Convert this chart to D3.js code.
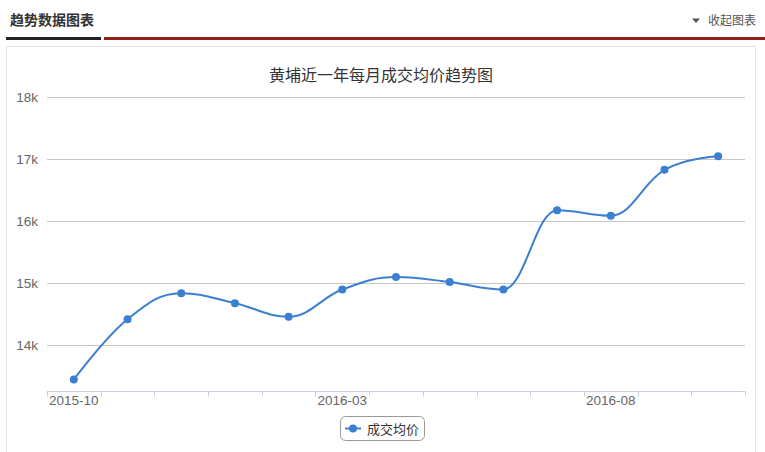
<!DOCTYPE html>
<html><head><meta charset="utf-8">
<script src="https://cdn.jsdelivr.net/npm/d3@7"></script>
<style>
html,body{margin:0;padding:0;background:#fff;}
svg{display:block;font-family:"Liberation Sans","Noto Sans CJK SC",sans-serif;}
</style></head>
<body>
<svg id="c" width="765" height="452"></svg>
<script>
const categories = ["2015-10","2015-11","2015-12","2016-01","2016-02","2016-03","2016-04","2016-05","2016-06","2016-07","2016-08","2016-09","2016-10"];
const prices = [13450,14420,14840,14680,14460,14900,15100,15020,14900,16180,16090,16830,17050];
const yTicks = [14000,15000,16000,17000,18000];
const xLabelIdx = [0,5,10];
const seriesName = "成交均价";
const chartTitle = "黄埔近一年每月成交均价趋势图";
const headerTitle = "趋势数据图表";
const headerAction = "收起图表";

const svg = d3.select("#c");
const cjk = '"Noto Sans CJK SC",sans-serif';

// header
svg.append("text").attr("x",10).attr("y",25).attr("font-size",14).attr("font-weight","bold")
  .attr("fill","#333").style("font-family",cjk).text(headerTitle);
svg.append("path").attr("d","M692,18.5 L700,18.5 L696,23 Z").attr("fill","#555");
svg.append("text").attr("x",756).attr("y",25).attr("text-anchor","end").attr("font-size",12)
  .attr("fill","#555").style("font-family",cjk).text(headerAction);
svg.append("rect").attr("x",6).attr("y",37).attr("width",95).attr("height",3).attr("fill","#222");
svg.append("rect").attr("x",104).attr("y",37).attr("width",661).attr("height",3).attr("fill","#8e1f1c");
// box
svg.append("rect").attr("x",6.5).attr("y",46.5).attr("width",749).attr("height",420)
  .attr("fill","none").attr("stroke","#e3e3e3");

// title
svg.append("text").attr("x",381).attr("y",81).attr("text-anchor","middle").attr("font-size",16)
  .attr("fill","#333").style("font-family",cjk).text(chartTitle);

const x0 = 47, x1 = 745;
const xBand = d3.scaleBand().domain(categories).range([x0,x1]).padding(0);
const xc = c => xBand(c) + xBand.bandwidth()/2;
const y = d3.scaleLinear().domain([13268,18000]).range([390.7,97.3]);

// grid
const g = svg.append("g");
g.selectAll("line.grid").data(yTicks).join("line")
  .attr("x1",x0).attr("x2",x1).attr("y1",d=>Math.round(y(d))+0.5).attr("y2",d=>Math.round(y(d))+0.5)
  .attr("stroke","#c6c6c6").attr("stroke-width",1);
g.selectAll("text.yl").data(yTicks).join("text")
  .attr("x",38).attr("y",d=>y(d)+5).attr("text-anchor","end").attr("font-size",13.5)
  .attr("fill","#666").text(d=>(d/1000)+"k");

// x axis
const axY = 391.5;
g.append("line").attr("x1",x0).attr("x2",x1).attr("y1",axY).attr("y2",axY).attr("stroke","#c8d2de");
const tickPos = categories.map(c=>xBand(c)).concat([x1]);
g.selectAll("line.xt").data(tickPos).join("line")
  .attr("x1",d=>Math.round(d)+0.5).attr("x2",d=>Math.round(d)+0.5).attr("y1",axY).attr("y2",axY+5)
  .attr("stroke","#c8d2de");
g.selectAll("text.xl").data(xLabelIdx).join("text")
  .attr("x",i=>xc(categories[i])).attr("y",405).attr("text-anchor","middle").attr("font-size",13.5)
  .attr("fill","#666").text(i=>categories[i]);

// Highcharts-style spline
const pts = categories.map((c,i)=>({x:xc(c), y:y(prices[i])}));
function splinePath(p){
  const sm = 1.5, den = sm+1;
  const path = d3.path();
  const rc = [];
  p.forEach((pt,i)=>{
    let lcx, lcy, rcx, rcy;
    if(i>0 && i<p.length-1){
      const L=p[i-1], N=p[i+1];
      lcx=(sm*pt.x+L.x)/den; lcy=(sm*pt.y+L.y)/den;
      rcx=(sm*pt.x+N.x)/den; rcy=(sm*pt.y+N.y)/den;
      let corr=0;
      if(rcx!==lcx) corr=((rcy-lcy)*(rcx-pt.x))/(rcx-lcx)+pt.y-rcy;
      lcy+=corr; rcy+=corr;
      if(lcy>L.y && lcy>pt.y){ lcy=Math.max(L.y,pt.y); rcy=2*pt.y-lcy; }
      else if(lcy<L.y && lcy<pt.y){ lcy=Math.min(L.y,pt.y); rcy=2*pt.y-lcy; }
      if(rcy>N.y && rcy>pt.y){ rcy=Math.max(N.y,pt.y); lcy=2*pt.y-rcy; }
      else if(rcy<N.y && rcy<pt.y){ rcy=Math.min(N.y,pt.y); lcy=2*pt.y-rcy; }
    }
    if(i===0){ path.moveTo(pt.x,pt.y); }
    else {
      const prev=p[i-1], prc=rc[i-1];
      path.bezierCurveTo(prc?prc[0]:prev.x, prc?prc[1]:prev.y, lcx!==undefined?lcx:pt.x, lcy!==undefined?lcy:pt.y, pt.x, pt.y);
    }
    rc[i] = rcx!==undefined ? [rcx,rcy] : null;
  });
  return path.toString();
}
const col = "#3b7fd1";
svg.append("path").attr("d",splinePath(pts)).attr("fill","none").attr("stroke",col).attr("stroke-width",2);
svg.selectAll("circle.pt").data(pts).join("circle").attr("cx",d=>d.x).attr("cy",d=>d.y).attr("r",4).attr("fill",col);

// legend
const lg = svg.append("g");
lg.append("rect").attr("x",340.5).attr("y",416.5).attr("width",84).attr("height",24).attr("rx",5)
  .attr("fill","#fff").attr("stroke","#999");
lg.append("line").attr("x1",345).attr("x2",361).attr("y1",428.5).attr("y2",428.5).attr("stroke",col).attr("stroke-width",2);
lg.append("circle").attr("cx",353).attr("cy",428.5).attr("r",4).attr("fill",col);
lg.append("text").attr("x",367).attr("y",433.5).attr("font-size",13).attr("fill","#333")
  .style("font-family",cjk).text(seriesName);
</script>
</body></html>
